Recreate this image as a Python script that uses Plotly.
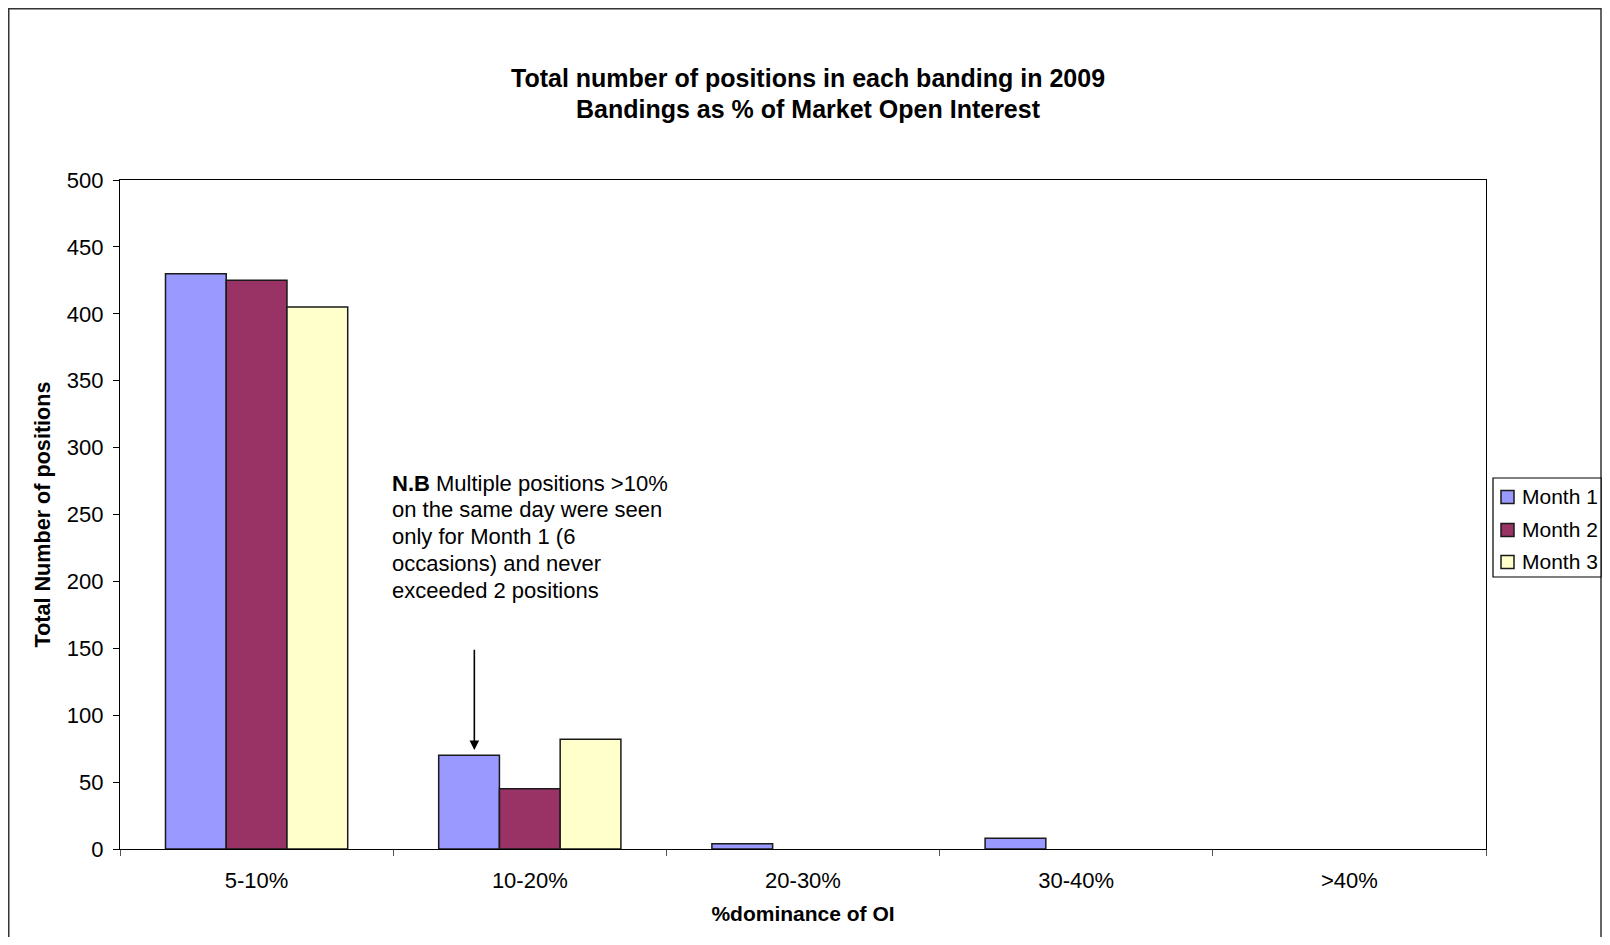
import plotly.graph_objects as go

categories = ["5-10%", "10-20%", "20-30%", "30-40%", ">40%"]
month1 = [430, 70, 4, 8, 0]
month2 = [425, 45, 0, 0, 0]
month3 = [405, 82, 0, 0, 0]
series_names = ["Month 1", "Month 2", "Month 3"]
series_colors = ["#9999FF", "#993366", "#FFFFCC"]
y_ticks = [0, 50, 100, 150, 200, 250, 300, 350, 400, 450, 500]
title_lines = ["Total number of positions in each banding in 2009",
               "Bandings as % of Market Open Interest"]
note_lines = ["<b>N.B</b> Multiple positions &gt;10%",
              "on the same day were seen",
              "only for Month 1 (6",
              "occasions) and never",
              "exceeded 2 positions"]

FONT = "Liberation Sans, Arial, sans-serif"
W, H = 1594, 929
ML, MR, MT, MB = 112, 116, 172, 88
PW, PH = W - ML - MR, H - MT - MB


def px(xw):
    # window x (page has an 8px body offset) -> paper x
    return (xw - 8 - ML) / PW


def py(yw):
    return (H - MB - (yw - 8)) / PH


fig = go.Figure()
for name, vals, col in zip(series_names, [month1, month2, month3], series_colors):
    fig.add_trace(go.Bar(
        x=categories, y=[v if v else None for v in vals], name=name,
        marker=dict(color=col, line=dict(color="#1a1a1a", width=1.5)),
        showlegend=False,
    ))

fig.update_layout(
    width=W, height=H,
    margin=dict(l=ML, r=MR, t=MT, b=MB, autoexpand=False),
    paper_bgcolor="white", plot_bgcolor="white",
    barmode="group", bargap=0.333, bargroupgap=0,
    font=dict(family=FONT, size=22, color="black"),
    showlegend=False,
    xaxis=dict(
        type="category", range=[-0.5, 4.5],
        showline=True, linecolor="black", linewidth=1.3, mirror=True,
        ticks="outside", tickson="boundaries", ticklen=6, tickcolor="#555",
        tickfont=dict(family=FONT, size=22, color="black"),
        ticklabelstandoff=11,
        showgrid=False, zeroline=False,
        title=dict(text="<b>%dominance of OI</b>", font=dict(family=FONT, size=21, color="black"), standoff=14),
    ),
    yaxis=dict(
        range=[0, 500], tickvals=y_ticks,
        showline=True, linecolor="black", linewidth=1.3, mirror=True,
        ticks="outside", ticklen=6, tickcolor="black",
        tickfont=dict(family=FONT, size=22, color="black"),
        ticklabelstandoff=5,
        showgrid=False, zeroline=False,
        title=dict(text="<b>Total Number of positions</b>", font=dict(family=FONT, size=21.6, color="black"), standoff=10),
    ),
)

# Chart title (two lines)
for line, yw in zip(title_lines, [78, 109]):
    fig.add_annotation(
        text="<b>" + line + "</b>",
        xref="paper", yref="paper", x=px(808), y=py(yw), xanchor="center", yanchor="middle",
        showarrow=False, font=dict(family=FONT, size=25, color="black"),
    )

# Note text, one annotation per line
for line, yw in zip(note_lines, [483.2, 509.9, 536.6, 563.3, 590.0]):
    fig.add_annotation(
        text=line,
        xref="paper", yref="paper", x=px(389.5), y=py(yw), xanchor="left", yanchor="middle",
        showarrow=False, align="left", font=dict(family=FONT, size=22, color="black"),
    )

# Arrow pointing to Month 1 bar of 10-20%
fig.add_annotation(
    x=0.797, y=74, ax=0.797, ay=150,
    xref="x", yref="y", axref="x", ayref="y",
    text="", showarrow=True, arrowhead=2, arrowsize=1.2, arrowwidth=1.6, arrowcolor="black",
)

# Legend (box, swatches, labels)
fig.add_shape(
    type="rect", xref="paper", yref="paper",
    x0=px(1493), x1=px(1601), y0=py(577), y1=py(478),
    line=dict(color="black", width=1.2), fillcolor="white",
)
for name, col, yw in zip(series_names, series_colors, [497, 530, 562]):
    fig.add_shape(
        type="rect", xref="paper", yref="paper",
        x0=px(1501), x1=px(1514), y0=py(yw + 6.5), y1=py(yw - 6.5),
        line=dict(color="#1a1a1a", width=1.5), fillcolor=col,
    )
    fig.add_annotation(
        text=name, xref="paper", yref="paper", x=px(1519.5), y=py(yw - 1),
        xanchor="left", yanchor="middle", showarrow=False,
        font=dict(family=FONT, size=21, color="black"),
    )

# Outer chart border
fig.add_shape(
    type="rect", xref="paper", yref="paper",
    x0=px(8.75), x1=px(1601), y0=-0.25, y1=py(8.75),
    line=dict(color="#333333", width=1.5), fillcolor="rgba(0,0,0,0)", layer="below",
)

fig.write_html("out.html")
